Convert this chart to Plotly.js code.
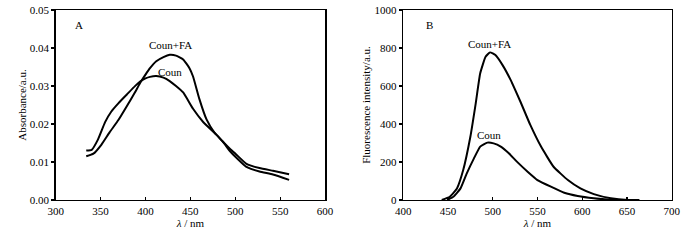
<!DOCTYPE html>
<html><head><meta charset="utf-8">
<script src="https://cdn.plot.ly/plotly-3.0.1.min.js"></script>
<style>html,body{margin:0;padding:0;background:#fff}#plot{width:700px;height:240px}</style>
</head><body><div id="plot"></div>
<script>
// Panel A: absorbance
const absWl_CounFA = [334,342,351,360,370,379,388,394,400,405,412,420,427,434,442,449,453,460,468,477,486,494,501,512,527,542,560];
const abs_CounFA   = [0.0115,0.0122,0.0146,0.0178,0.0211,0.0246,0.0282,0.0308,0.0330,0.0347,0.0365,0.0376,0.0382,0.0380,0.0370,0.0347,0.0325,0.0266,0.0212,0.0177,0.0154,0.0129,0.0112,0.0088,0.0075,0.0067,0.0053];
const absWl_Coun   = [334,340,347,355,362,370,379,388,394,400,405,412,420,427,434,442,453,464,479,486,494,501,512,527,542,560];
const abs_Coun     = [0.0130,0.0132,0.0159,0.0205,0.0233,0.0255,0.0277,0.0299,0.0312,0.0320,0.0324,0.0326,0.0322,0.0313,0.0300,0.0283,0.0240,0.0206,0.0172,0.0154,0.0135,0.0120,0.0096,0.0084,0.0077,0.0068];
// Panel B: fluorescence
const flWl_CounFA = [443,452,460,467,475,481,486,492,497,503,511,520,531,542,554,568,584,598,613,632,651,664];
const fl_CounFA   = [0,17,61,158,333,509,667,754,777,763,710,632,517,395,281,175,105,61,31,9,0,0];
const flWl_Coun   = [449,456,464,471,479,486,494,501,509,518,527,539,550,565,580,595,613,636,660];
const fl_Coun     = [0,17,61,140,219,281,302,298,281,246,202,149,105,70,38,21,9,0,0];

const serif = 'Liberation Serif, Times New Roman, serif';
const lineStyle = {color:'#000', width:2, shape:'spline', smoothing:0.4};
const traces = [
  {x:absWl_CounFA, y:abs_CounFA, mode:'lines', line:lineStyle, xaxis:'x', yaxis:'y'},
  {x:absWl_Coun, y:abs_Coun, mode:'lines', line:lineStyle, xaxis:'x', yaxis:'y'},
  {x:flWl_CounFA, y:fl_CounFA, mode:'lines', line:lineStyle, xaxis:'x2', yaxis:'y2'},
  {x:flWl_Coun, y:fl_Coun, mode:'lines', line:lineStyle, xaxis:'x2', yaxis:'y2'}
];
const ax = {showgrid:false, zeroline:false, showline:true, mirror:true, linecolor:'#000', linewidth:1.5,
  tickfont:{family:serif, size:11, color:'#000'}, ticklen:3, tickwidth:1.2, tickcolor:'#000', automargin:false};
const xlab = {text:'<i>λ</i> / nm', font:{family:serif, size:11, color:'#000'}, standoff:0};
const layout = {
  width:700, height:240, margin:{l:0,r:0,t:0,b:0}, showlegend:false,
  paper_bgcolor:'#fff', plot_bgcolor:'#fff',
  xaxis: Object.assign({}, ax, {domain:[0.0796,0.4643], range:[300,600], dtick:50, ticks:'inside', anchor:'y', title:xlab}),
  yaxis: Object.assign({}, ax, {domain:[0.1667,0.9583], range:[0,0.05], dtick:0.01, tickformat:'.2f', ticks:'outside', anchor:'x',
    title:{text:'Absorbance/a.u.', font:{family:serif, size:11, color:'#000'}, standoff:1}}),
  xaxis2: Object.assign({}, ax, {domain:[0.5761,0.9595], range:[400,700], dtick:50, ticks:'inside', anchor:'y2', title:xlab}),
  yaxis2: Object.assign({}, ax, {domain:[0.1667,0.9583], range:[0,1000], dtick:200, ticks:'outside', anchor:'x2',
    title:{text:'Fluorescence intensity/a.u.', font:{family:serif, size:11, color:'#000'}, standoff:1}}),
  annotations:[
    {xref:'x', yref:'y', x:326, y:0.0461, text:'A', showarrow:false, font:{family:serif,size:11,color:'#000'}},
    {xref:'x', yref:'y', x:428, y:0.0409, text:'Coun+FA', showarrow:false, font:{family:serif,size:11,color:'#000'}},
    {xref:'x', yref:'y', x:427, y:0.0338, text:'Coun', showarrow:false, font:{family:serif,size:11,color:'#000'}},
    {xref:'x2', yref:'y2', x:429, y:921, text:'B', showarrow:false, font:{family:serif,size:11,color:'#000'}},
    {xref:'x2', yref:'y2', x:496, y:821, text:'Coun+FA', showarrow:false, font:{family:serif,size:11,color:'#000'}},
    {xref:'x2', yref:'y2', x:496, y:342, text:'Coun', showarrow:false, font:{family:serif,size:11,color:'#000'}}
  ]
};
Plotly.newPlot('plot', traces, layout, {staticPlot:true, displayModeBar:false});
</script></body></html>
